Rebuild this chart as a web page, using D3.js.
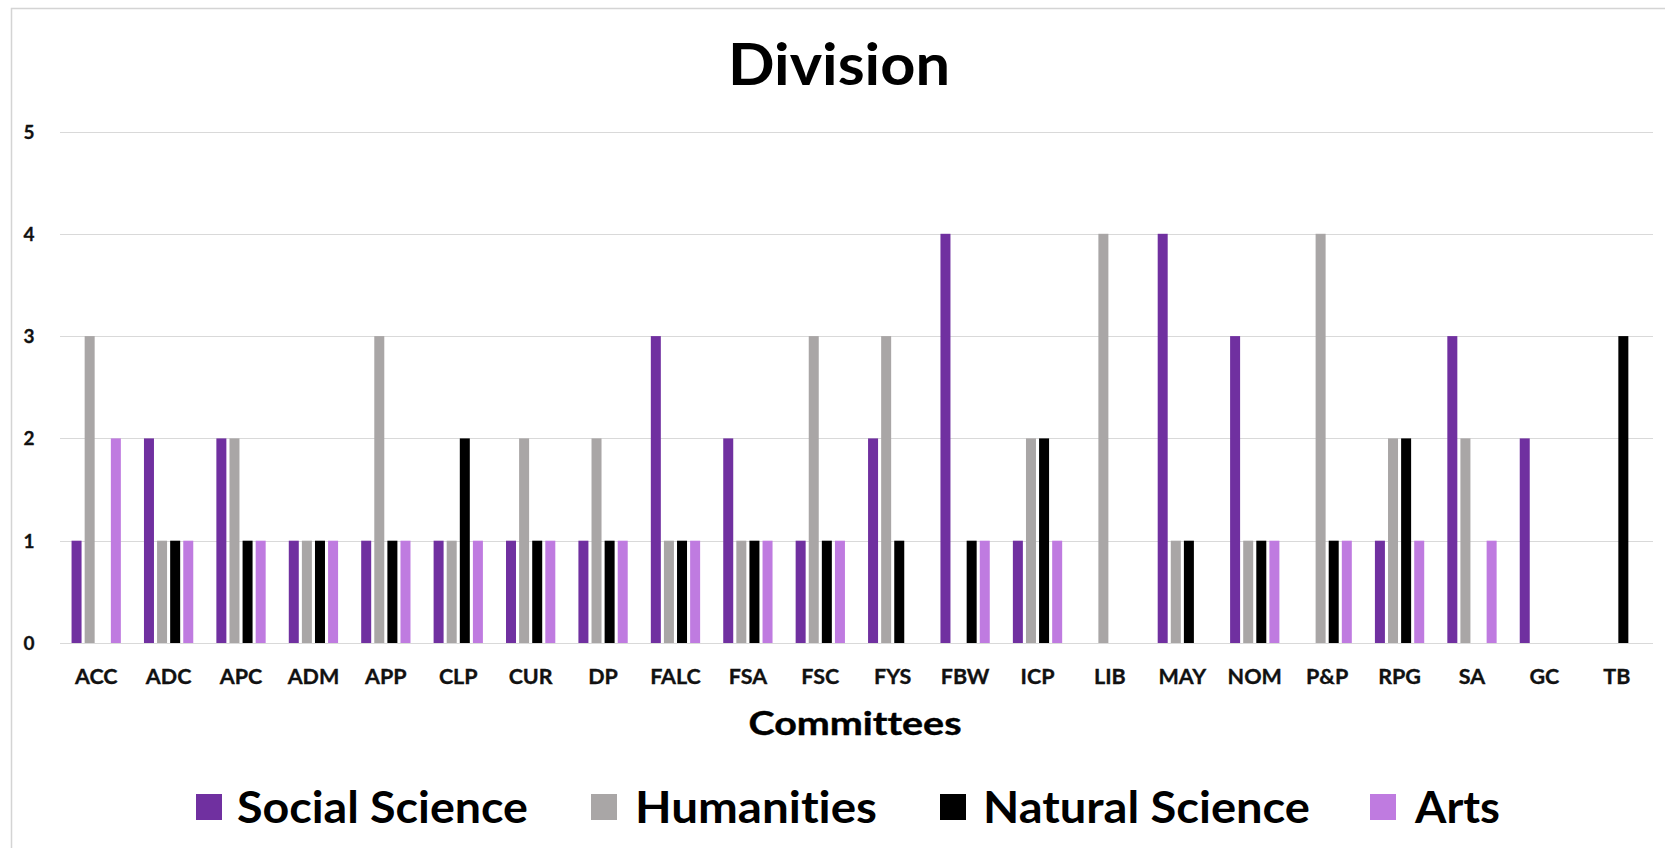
<!DOCTYPE html>
<html>
<head>
<meta charset="utf-8">
<script src="https://cdn.jsdelivr.net/npm/d3@7"></script>
<style>
  html, body { margin: 0; padding: 0; background: #ffffff; }
  svg { display: block; font-family: Lato, "Open Sans", sans-serif; font-variant-ligatures: none; font-feature-settings: "liga" 0, "clig" 0; }
</style>
</head>
<body>
<svg id="chart" width="1665" height="848"></svg>
<script>
const categories = ["ACC","ADC","APC","ADM","APP","CLP","CUR","DP","FALC","FSA","FSC","FYS","FBW","ICP","LIB","MAY","NOM","P&P","RPG","SA","GC","TB"];
const seriesNames = ["Social Science","Humanities","Natural Science","Arts"];
const socialScience  = [1,2,2,1,1,1,1,1,3,2,1,2,4,1,0,4,3,0,1,3,2,0];
const humanities     = [3,1,2,1,3,1,2,2,1,1,3,3,0,2,4,1,1,4,2,2,0,0];
const naturalScience = [0,1,1,1,1,2,1,1,1,1,1,1,1,2,0,1,1,1,2,0,0,3];
const arts           = [2,1,1,1,1,1,1,1,1,1,1,0,1,1,0,0,1,1,1,1,0,0];
const yTicks = [0,1,2,3,4,5];
const colors = ["#7030A0","#A9A6A6","#000000","#BF7BE0"];
const title = "Division";
const xTitle = "Committees";

const seriesValues = [socialScience, humanities, naturalScience, arts];
const svg = d3.select("#chart");

// chart border
svg.append("rect").attr("x", 11.5).attr("y", 8.5).attr("width", 1700).attr("height", 900)
  .attr("fill", "#ffffff").attr("stroke", "#d4d4d4").attr("stroke-width", 1.5);

const x0 = d3.scaleBand().domain(categories).range([60, 1653]).padding(0);
const groupSpan = 52.4;
const x1 = d3.scaleBand().domain(seriesNames).range([0, groupSpan]).padding(0);
const barW = 10;
const y = d3.scaleLinear().domain([0, 5]).range([643, 131.5]);

// gridlines
svg.append("g").selectAll("line").data(yTicks).join("line")
  .attr("x1", 60).attr("x2", 1653)
  .attr("y1", d => Math.round(y(d)) + 0.5).attr("y2", d => Math.round(y(d)) + 0.5)
  .attr("stroke", "#d9d9d9").attr("stroke-width", 1);

// y tick labels
svg.append("g").selectAll("text").data(yTicks).join("text")
  .attr("x", 29).attr("y", d => y(d) + 7)
  .attr("text-anchor", "middle")
  .attr("font-size", 19).attr("font-weight", 700).attr("fill", "#111")
  .attr("stroke", "#111").attr("stroke-width", 0.3)
  .text(d => d);

// bars
const rows = [];
categories.forEach((c, i) => {
  seriesNames.forEach((s, j) => {
    rows.push({ cat: c, series: s, value: seriesValues[j][i], color: colors[j] });
  });
});
const offset = (x0.bandwidth() - (x1.step() * 3 + barW)) / 2;
svg.append("g").selectAll("rect").data(rows.filter(d => d.value > 0)).join("rect")
  .attr("x", d => x0(d.cat) + offset + x1(d.series))
  .attr("width", barW)
  .attr("y", d => y(d.value))
  .attr("height", d => y(0) - y(d.value))
  .attr("fill", d => d.color);

// x tick labels
svg.append("g").selectAll("text").data(categories).join("text")
  .attr("x", d => x0(d) + x0.bandwidth() / 2)
  .attr("y", 684)
  .attr("text-anchor", "middle")
  .attr("font-size", 21.5).attr("font-weight", 700).attr("fill", "#111")
  .attr("stroke", "#111").attr("stroke-width", 0.35)
  .text(d => d);

// title
svg.append("text").attr("x", 839).attr("y", 85).attr("text-anchor", "middle")
  .attr("font-size", 58).attr("font-weight", 700).attr("fill", "#000")
  .attr("textLength", 222).attr("lengthAdjust", "spacingAndGlyphs")
  .text(title);

// x axis title
svg.append("text").attr("x", 855).attr("y", 735).attr("text-anchor", "middle")
  .attr("font-size", 32).attr("font-weight", 700).attr("fill", "#000")
  .attr("stroke", "#000").attr("stroke-width", 0.4)
  .attr("textLength", 213).attr("lengthAdjust", "spacingAndGlyphs")
  .text(xTitle);

// legend
const legendSquareX = [196, 591, 940, 1370];
const legendTextX = [237, 635, 983, 1415];
const legendTextW = [291, 242, 327, 85];
const lg = svg.append("g").selectAll("g").data(seriesNames).join("g");
lg.append("rect")
  .attr("x", (d, i) => legendSquareX[i]).attr("y", 794)
  .attr("width", 26).attr("height", 26)
  .attr("fill", (d, i) => colors[i]);
lg.append("text")
  .attr("x", (d, i) => legendTextX[i]).attr("y", 823)
  .attr("font-size", 43).attr("font-weight", 700).attr("fill", "#000")
  .attr("textLength", (d, i) => legendTextW[i]).attr("lengthAdjust", "spacingAndGlyphs")
  .text(d => d);
</script>
</body>
</html>
